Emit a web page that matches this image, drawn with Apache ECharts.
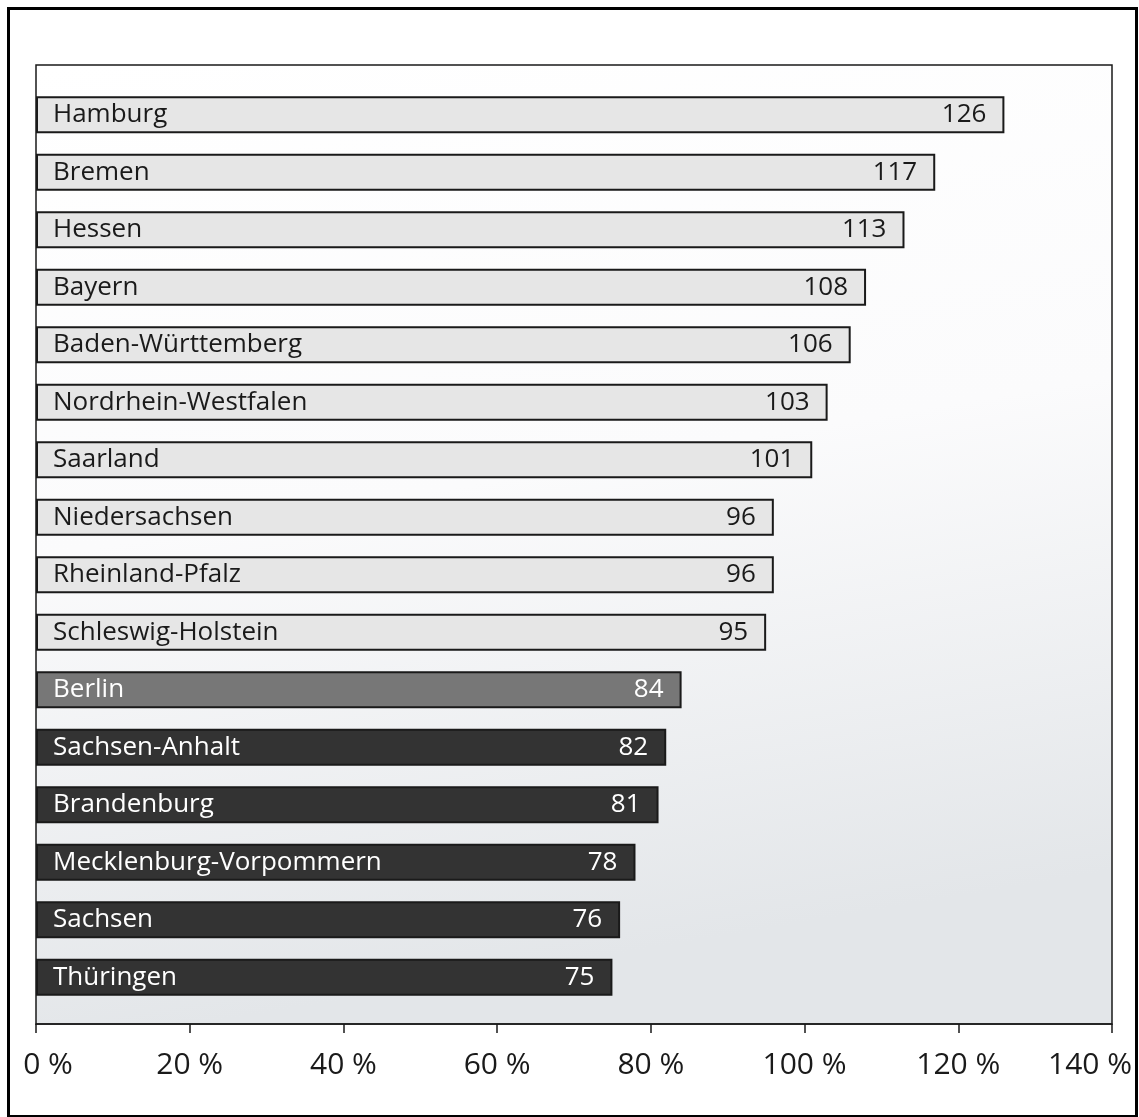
<!DOCTYPE html>
<html>
<head>
<meta charset="utf-8">
<script src="https://cdn.jsdelivr.net/npm/echarts@6/dist/echarts.min.js"></script>
<style>
html,body{margin:0;padding:0;background:#fff;}
#c{width:1139px;height:1117px;}
</style>
</head>
<body>
<div id="c"></div>
<script>
const categories = ['Hamburg','Bremen','Hessen','Bayern','Baden-Württemberg','Nordrhein-Westfalen','Saarland','Niedersachsen','Rheinland-Pfalz','Schleswig-Holstein','Berlin','Sachsen-Anhalt','Brandenburg','Mecklenburg-Vorpommern','Sachsen','Thüringen'];
const values = [126,117,113,108,106,103,101,96,96,95,84,82,81,78,76,75];
const groups = ['west','west','west','west','west','west','west','west','west','west','berlin','east','east','east','east','east'];
const axisTicks = [0,20,40,60,80,100,120,140];

const FONT = '"Open Sans", "Noto Sans", sans-serif';
const fill = {west:'#e6e6e6', berlin:'#777777', east:'#333333'};
const txt = {west:'#1a1a1a', berlin:'#ffffff', east:'#ffffff'};

const chart = echarts.init(document.getElementById('c'), null, {renderer:'canvas'});

const nameData = values.map((v,i)=>({
  value: v,
  itemStyle:{color: fill[groups[i]], borderColor:'#1a1a1a', borderWidth:2},
  label:{color: txt[groups[i]]}
}));

const minTick = axisTicks[0], maxTick = axisTicks[axisTicks.length-1];

chart.setOption({
  animation:false,
  graphic:[{
    type:'rect', left:6, top:6, silent:true, z:-10,
    shape:{width:1128, height:1108},
    style:{fill:'none', stroke:'#000', lineWidth:3}
  }],
  grid:[
    {left:36, right:27, top:65, height:959, show:true, borderColor:'#1a1a1a', borderWidth:1.5,
     containLabel:false, outerBoundsMode:'none',
     backgroundColor:{type:'linear', x:0, y:0, x2:0.15, y2:1, colorStops:[
       {offset:0, color:'#ffffff'},{offset:0.5, color:'#fbfbfc'},{offset:1, color:'#e3e6e9'}]}},
    {left:36, right:27, top:86, height:920, containLabel:false, outerBoundsMode:'none'}
  ],
  xAxis:[
    {gridIndex:0, type:'value', min:minTick, max:maxTick, interval:20,
     splitLine:{show:false},
     axisLine:{show:true, lineStyle:{color:'#1a1a1a', width:1.5}},
     axisTick:{show:true, length:9, lineStyle:{color:'#1a1a1a', width:1.5}},
     axisLabel:{show:true, margin:26, fontFamily:FONT, fontSize:30, color:'#1a1a1a',
       formatter:(v)=> v===minTick ? '{s|}' + v + ' %' : (v===maxTick ? v + ' %{e|}' : v + ' %'),
       rich:{s:{width:24, fontSize:30}, e:{width:44, fontSize:30}}}},
    {gridIndex:1, type:'value', min:minTick, max:maxTick, show:false}
  ],
  yAxis:[
    {gridIndex:0, type:'value', show:false},
    {gridIndex:1, type:'category', data:categories, inverse:true, show:false}
  ],
  series:[
    {type:'bar', xAxisIndex:1, yAxisIndex:1, barWidth:37, data:nameData,
     label:{show:true, position:'insideLeft', distance:17, fontFamily:FONT, fontSize:26,
       formatter:(p)=>categories[p.dataIndex]},
    },
    {type:'bar', xAxisIndex:1, yAxisIndex:1, barWidth:37, barGap:'-100%',
     data: values.map((v,i)=>({value:v, label:{color: txt[groups[i]]}})),
     itemStyle:{color:'rgba(0,0,0,0)'},
     label:{show:true, position:'insideRight', distance:18, fontFamily:FONT, fontSize:26,
       formatter:(p)=>String(p.value)}
    }
  ]
});
</script>
</body>
</html>
